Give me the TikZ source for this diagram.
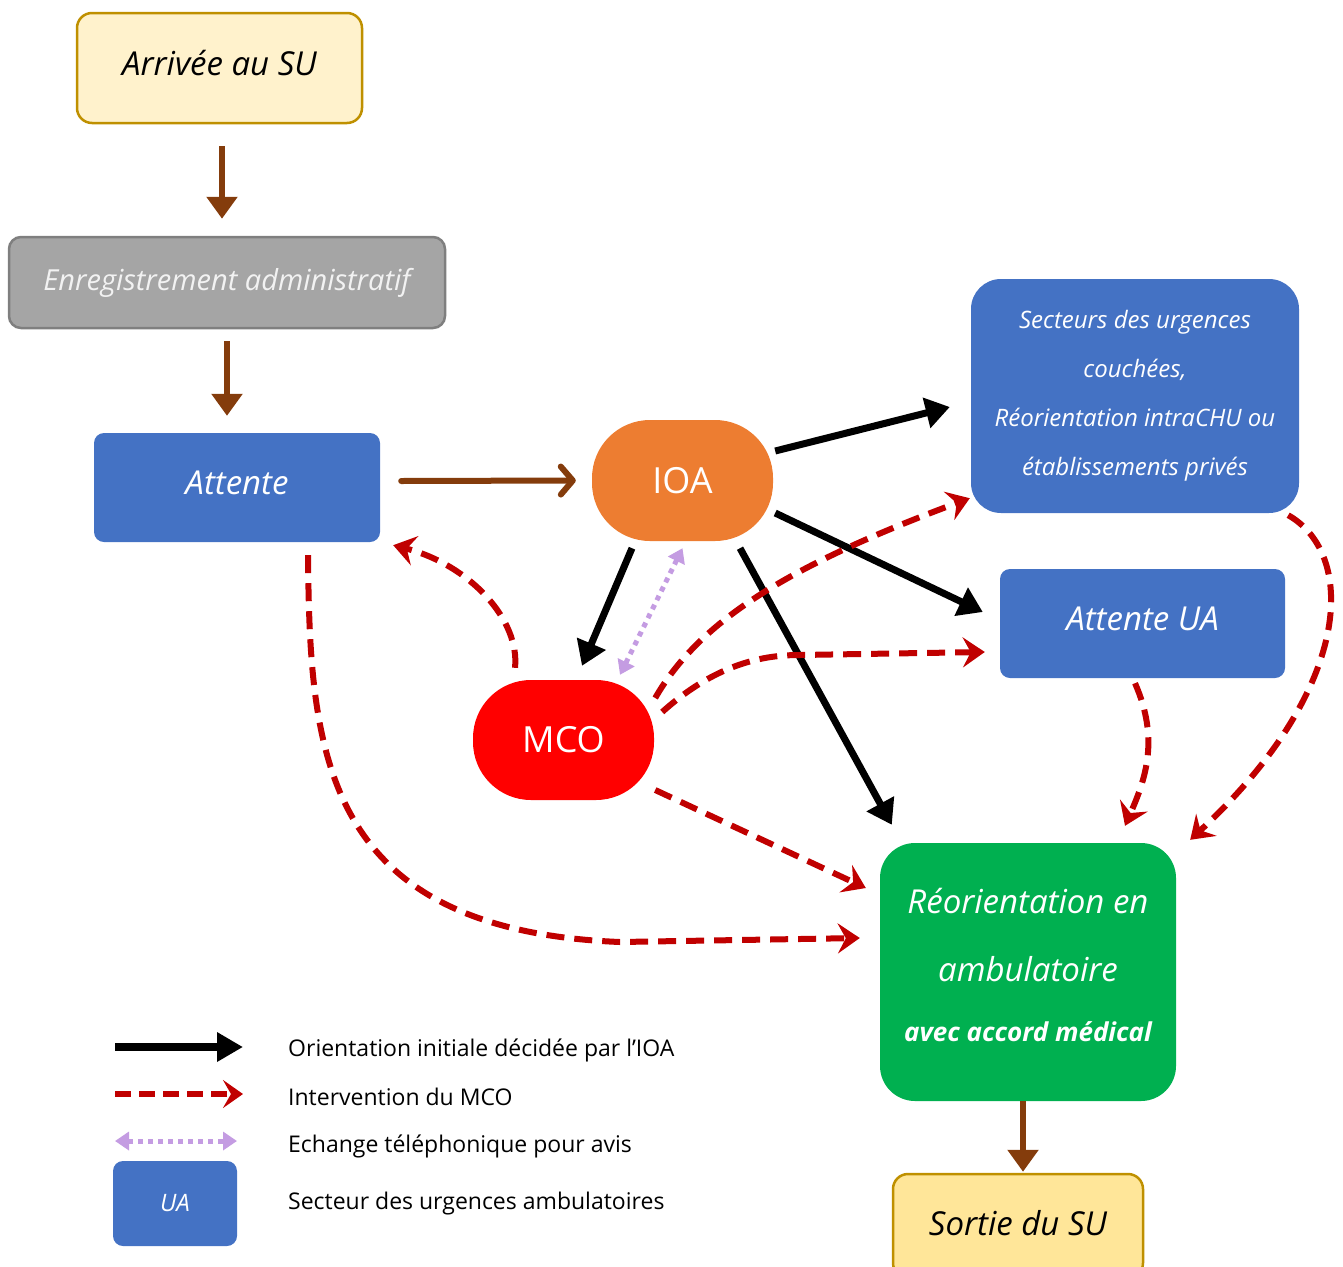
\documentclass[tikz,border=0pt]{standalone}
\usepackage{fontspec}
\setmainfont{Open Sans}
\usetikzlibrary{arrows.meta,calc}
\definecolor{cream}{HTML}{FFF2CC}
\definecolor{creamd}{HTML}{FFE699}
\definecolor{gold}{HTML}{BF9000}
\definecolor{greyf}{HTML}{A5A5A5}
\definecolor{greyd}{HTML}{7F7F7F}
\definecolor{blu}{HTML}{4472C4}
\definecolor{orng}{HTML}{ED7D31}
\definecolor{grn}{HTML}{00B050}
\definecolor{brwn}{HTML}{843C0C}
\definecolor{dred}{HTML}{C00000}
\definecolor{purp}{HTML}{C49CE2}
\tikzset{
  box/.style={rectangle, inner sep=0pt, align=center},
  brownv/.style={draw=brwn, line width=6pt, -{Triangle[length=22pt,width=30pt]}},
  brownh/.style={draw=brwn, line width=6pt, line cap=round, -{Straight Barb[round,length=12pt,width=28pt,line width=6pt]}},
  blackarr/.style={draw=black, line width=7pt, -{Triangle[length=24pt,width=30pt]}},
  redarr/.style={draw=dred, line width=6pt, dash pattern=on 18pt off 10pt, -{Stealth[length=22pt,width=30pt,inset=8pt]}},
  purparr/.style={draw=purp, line width=5pt, dash pattern=on 5pt off 5pt, {Triangle[length=14pt,width=18pt]}-{Triangle[length=14pt,width=18pt]}},
}
\begin{document}
\begin{tikzpicture}[x=1pt,y=-1pt]
\useasboundingbox (0,0) rectangle (1343,1266);
\clip (0,0) rectangle (1343,1266);

% nodes
\node[box, fill=cream, draw=gold, line width=2.5pt, rounded corners=15pt, minimum width=285pt, minimum height=110pt]
  (arr) at (219.5,68) {\raisebox{10pt}{\fontsize{33}{40}\selectfont\itshape Arrivée au SU}};
\node[box, fill=greyf, draw=greyd, line width=2.5pt, rounded corners=12pt, minimum width=436pt, minimum height=91pt, text=white!95!black]
  (enr) at (227,282.5) {\fontsize{29}{36}\selectfont\itshape Enregistrement administratif};
\node[box, fill=blu, rounded corners=10pt, minimum width=286pt, minimum height=109pt, text=white]
  (att) at (237,487.5) {\raisebox{10pt}{\fontsize{33}{40}\selectfont\itshape Attente}};
\node[box, fill=orng, rounded corners=58pt, minimum width=181pt, minimum height=121pt, text=white]
  (ioa) at (682.5,480.5) {\fontsize{36}{40}\selectfont IOA};
\node[box, fill=red, rounded corners=58pt, minimum width=181pt, minimum height=120pt, text=white]
  (mco) at (563.5,740) {\fontsize{36}{40}\selectfont MCO};
\node[box, fill=blu, rounded corners=30pt, minimum width=328pt, minimum height=234pt, text=white,
  font=\fontsize{24}{49}\selectfont\itshape]
  (sec) at (1135,396) {\raisebox{-3pt}{\parbox{320pt}{\centering Secteurs des urgences\\ couchées,\\ Réorientation intraCHU ou\\ établissements privés}}};
\node[box, fill=blu, rounded corners=10pt, minimum width=285pt, minimum height=109pt, text=white]
  (aua) at (1142.5,623.5) {\raisebox{10pt}{\fontsize{33}{40}\selectfont\itshape Attente UA}};
\node[box, fill=grn, rounded corners=35pt, minimum width=296pt, minimum height=258pt]
  (reo) at (1028,972) {};
\node[box, text=white, font=\fontsize{33}{68}\selectfont\itshape] (reot) at ($(reo)+(0,-7)$)
  {Réorientation en\\ ambulatoire\\[-8pt] {\fontsize{26}{30}\selectfont\bfseries\itshape avec accord médical}};
\node[box, fill=creamd, draw=gold, line width=2.5pt, rounded corners=15pt, minimum width=250pt, minimum height=104pt]
  (sor) at (1018,1226) {\raisebox{6pt}{\fontsize{33}{40}\selectfont\itshape Sortie du SU}};

% brown arrows
\draw[brownv, shorten <=22pt, shorten >=17pt] (arr.south -| 222,0) -- (enr.north -| 222,0);
\draw[brownv, shorten <=12pt, shorten >=17pt] (enr.south -| 227,0) -- (att.north -| 227,0);
\draw[brownh] ($(att.east)+(21,-6.5)$) -- ($(ioa.west)+(-16,0)$);
\draw[brownv, shorten >=1pt] (reo.south -| 1023,0) -- (sor.north -| 1023,0);

% black arrows
\draw[blackarr] ($(ioa.east)+(2,-29.5)$) -- ($(sec.west)+(-21,11)$);
\draw[blackarr] ($(ioa.east)+(2,32.5)$) -- ($(aua.west)+(-17,-11.5)$);
\draw[blackarr] ($(ioa.south)+(-50.5,7)$) -- ($(mco.north)+(18.5,-14)$);
\draw[blackarr] ($(ioa.south)+(57.5,7)$) -- ($(reo.north west)+(12,-18)$);

% purple exchange
\draw[purparr] ($(mco.north)+(56.5,-5)$) -- ($(ioa.south)+(0,7)$);

% red dashed
\draw[redarr] ($(mco.north)+(-48.5,-12)$) .. controls (520,620) and (470,565) .. ($(att.south east)+(13,3)$);
\draw[redarr] ($(att.south)+(71,13)$) .. controls (310,750) and (320,930) .. (620,942) -- ($(reo.west)+(-20,-34)$);
\draw[redarr] ($(mco.east)+(1,-42)$) .. controls (700,620) and (790,565) .. ($(sec.south west)+(-1,-15)$);
\draw[redarr] ($(mco.east)+(8,-28)$) .. controls (720,660) and (770,655) .. (800,655) -- ($(aua.west)+(-15,28.5)$);
\draw[redarr] ($(mco.east)+(1,50)$) -- ($(reo.west)+(-14,-84)$);
\draw[redarr] ($(aua.south)+(-7.5,5)$) .. controls (1160,740) and (1145,780) .. ($(reo.north)+(97,-17)$);
\draw[redarr] ($(sec.south east)+(-11,2)$) .. controls (1358,555) and (1352,690) .. ($(reo.north east)+(14,-3)$);

% legend
\coordinate (l1a) at (115,1047); \coordinate (l1b) at (243,1047);
\coordinate (l2a) at (115,1094); \coordinate (l2b) at (243,1094);
\coordinate (l3a) at (115,1141); \coordinate (l3b) at (237,1141);
\draw[draw=black, line width=8pt, -{Triangle[length=26pt,width=28pt]}] (l1a) -- (l1b);
\draw[draw=dred, line width=6pt, dash pattern=on 16pt off 8pt, -{Stealth[length=20pt,width=28pt,inset=8pt]}] (l2a) -- (l2b);
\draw[purparr] (l3a) -- (l3b);
\node[box, fill=blu, rounded corners=10pt, minimum width=124pt, minimum height=85pt, text=white]
  (ua) at (175,1203.5) {\fontsize{24}{30}\selectfont\itshape UA};
\node[anchor=west, inner sep=0pt] (t1) at (288,1050) {\fontsize{23}{28}\selectfont Orientation initiale décidée par l’IOA};
\node[anchor=west, inner sep=0pt] (t2) at (288,1097) {\fontsize{23}{28}\selectfont Intervention du MCO};
\node[anchor=west, inner sep=0pt] (t3) at (288,1146) {\fontsize{23}{28}\selectfont Echange téléphonique pour avis};
\node[anchor=west, inner sep=0pt] (t4) at (288,1204) {\fontsize{23}{28}\selectfont Secteur des urgences ambulatoires};
\end{tikzpicture}
\end{document}
